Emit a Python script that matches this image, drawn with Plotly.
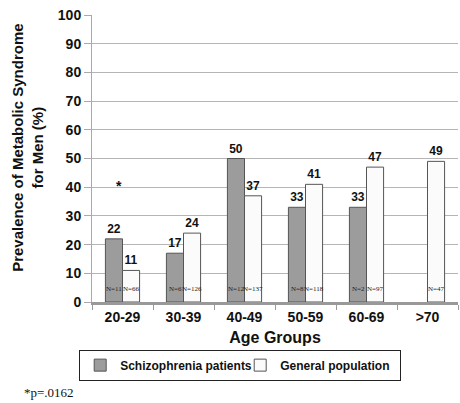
import plotly.graph_objects as go

categories = ["20-29", "30-39", "40-49", "50-59", "60-69", ">70"]
schizo = [22, 17, 50, 33, 33, None]
general = [11, 24, 37, 41, 47, 49]
schizo_n = ["N=11", "N=6", "N=12", "N=8", "N=2", None]
general_n = ["N=66", "N=126", "N=137", "N=118", "N=97", "N=47"]
y_ticks = list(range(0, 101, 10))

SANS = "Arial"
SERIF = "Liberation Serif, Times New Roman, serif"

fig = go.Figure()
fig.add_trace(go.Bar(
    x=categories, y=schizo, name="Schizophrenia patients",
    marker=dict(color="#9c9c9c", line=dict(color="#555555", width=1)),
    text=[str(v) if v is not None else "" for v in schizo],
    textposition="outside", cliponaxis=False,
    textfont=dict(family=SANS, size=12, color="#111111", weight=700),
))
fig.add_trace(go.Bar(
    x=categories, y=general, name="General population",
    marker=dict(color="#fbfbfb", line=dict(color="#555555", width=1)),
    text=[str(v) for v in general],
    textposition="outside", cliponaxis=False,
    textfont=dict(family=SANS, size=12, color="#111111", weight=700),
))

annotations = []
for i, c in enumerate(categories):
    if schizo_n[i]:
        annotations.append(dict(x=c, y=2.5, xref="x", yref="y", text=schizo_n[i],
                                showarrow=False, xshift=-8.5, yanchor="bottom",
                                font=dict(family=SERIF, size=7, color="#222")))
    annotations.append(dict(x=c, y=2.5, xref="x", yref="y", text=general_n[i],
                            showarrow=False, xshift=8.5, yanchor="bottom",
                            font=dict(family=SERIF, size=7, color="#222")))

annotations.append(dict(x=categories[0], y=schizo[0] + 18.5, xref="x", yref="y", text="*",
                        showarrow=False, xshift=-4, yanchor="middle",
                        font=dict(family=SANS, size=14, color="#111", weight=700)))
annotations.append(dict(x=-0.175, y=0.537, xref="paper", yref="paper",
                        xanchor="center", yanchor="middle",
                        text="Prevalence of Metabolic Syndrome<br>for Men (%)",
                        textangle=-90, showarrow=False,
                        font=dict(family=SANS, size=15, color="#111", weight=700)))
annotations.append(dict(x=-0.19, y=-0.315, xref="paper", yref="paper", text="*p=.0162",
                        xanchor="left", yanchor="middle", showarrow=False,
                        font=dict(family=SERIF, size=13, color="#111")))

fig.update_layout(
    width=460, height=403,
    margin=dict(l=92, r=2, t=15, b=101),
    paper_bgcolor="white", plot_bgcolor="white",
    barmode="group", bargap=0.44, bargroupgap=0,
    showlegend=True,
    legend=dict(orientation="h", x=-0.035, y=-0.22, xanchor="left", yanchor="middle",
                bordercolor="#222", borderwidth=1, bgcolor="white",
                font=dict(family=SANS, size=12, color="#111", weight=700),
                entrywidth=115, entrywidthmode="pixels", tracegroupgap=0),
    annotations=annotations,
    xaxis=dict(
        showline=True, linecolor="#999", linewidth=3,
        ticks="outside", ticklen=5, tickcolor="#999", tickson="boundaries",
        tickfont=dict(family=SANS, size=14, color="#111", weight=700),
        title=dict(text="Age Groups", standoff=9,
                   font=dict(family=SANS, size=16, color="#111", weight=700)),
    ),
    yaxis=dict(
        range=[0, 100], tickvals=y_ticks,
        showline=True, linecolor="#aaa", linewidth=1,
        ticks="outside", ticklen=7, tickcolor="#aaa",
        showgrid=True, gridcolor="#b5b5b5", gridwidth=1,
        zeroline=False,
        tickfont=dict(family=SANS, size=14, color="#111", weight=700),
    ),
)

fig.write_html("out.html")
